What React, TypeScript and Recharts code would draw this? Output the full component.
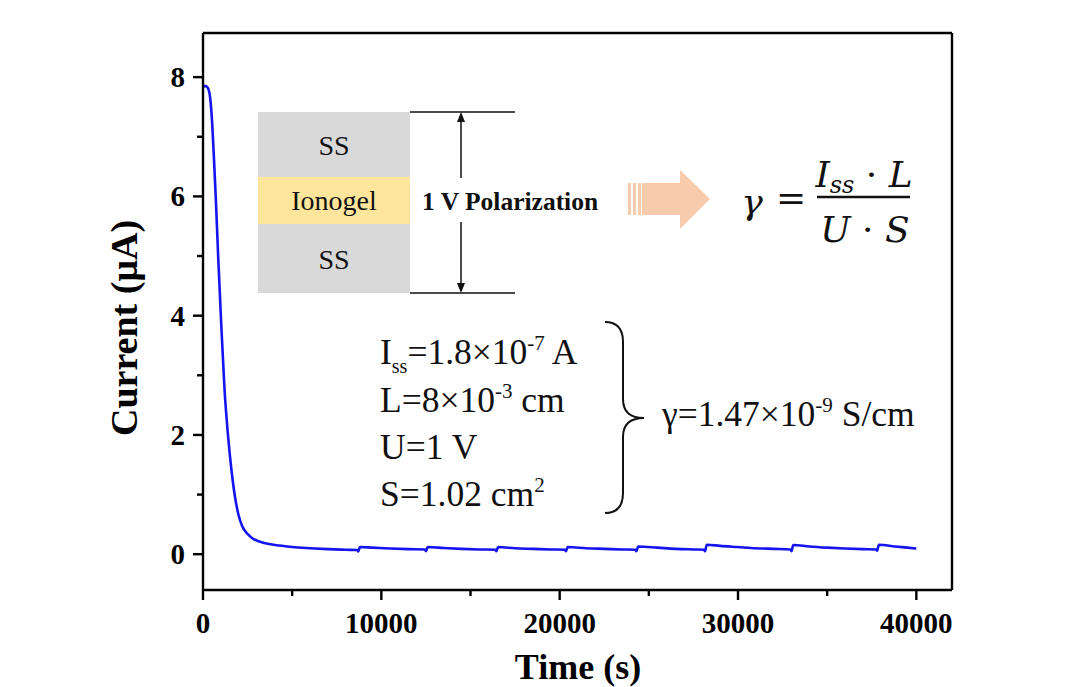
import React from "react";
import { LineChart, Line, XAxis, YAxis } from "recharts";

// Chronoamperometry under a 1 V step: time (s) vs. current (µA)
const timeS = [
  0, 150, 300, 420, 520, 620, 720, 850, 1000, 1200, 1400, 1600, 1800, 2000, 2200,
  2500, 2800, 3200, 3700, 4300, 5000, 6000, 7000, 8000, 8650, 8700, 8800, 9500,
  10500, 11500, 12450, 12500, 12600, 13500, 14500, 15500, 16400, 16450, 16550,
  17500, 18500, 19500, 20300, 20350, 20450, 21500, 22500, 23500, 24250, 24300,
  24400, 25500, 26500, 27500, 28100, 28150, 28250, 29000, 30000, 31000, 32000,
  32950, 33000, 33100, 34000, 35000, 36000, 37000, 37750, 37800, 37900, 38800,
  39500, 40000,
];
const currentUA = [
  7.85, 7.85, 7.8, 7.6, 7.2, 6.6, 5.95, 5.0, 4.0, 2.8, 2.0, 1.4, 0.95, 0.65, 0.47,
  0.34, 0.26, 0.21, 0.17, 0.145, 0.12, 0.1, 0.085, 0.075, 0.07, 0.045, 0.12, 0.11,
  0.095, 0.085, 0.08, 0.05, 0.12, 0.105, 0.09, 0.08, 0.075, 0.05, 0.12,
  0.1, 0.09, 0.08, 0.075, 0.05, 0.12, 0.1, 0.09, 0.08, 0.075, 0.05,
  0.13, 0.11, 0.09, 0.08, 0.075, 0.05, 0.16, 0.14, 0.12, 0.1, 0.09,
  0.08, 0.05, 0.155, 0.13, 0.11, 0.095, 0.085, 0.08, 0.06, 0.16, 0.13,
  0.11, 0.095,
];

const xTicks = [0, 5000, 10000, 15000, 20000, 25000, 30000, 35000, 40000];
const yTicks = [0, 1, 2, 3, 4, 5, 6, 7, 8];
const xDomain = [0, 42000];
const yDomain = [-0.6, 8.74];

const data = timeS.map((t, i) => ({ t, i: currentUA[i] }));

const SERIF = "'Liberation Serif', 'Times New Roman', serif";
const W = 1092;
const H = 687;

const XTick = (props: any) => {
  const { x, y, payload } = props;
  const major = payload.value % 10000 === 0;
  return (
    <g>
      <line x1={x} x2={x} y1={y} y2={y + (major ? 10 : 6)} stroke="#000" strokeWidth={2.4} />
      {major && (
        <text x={x} y={y + 43} textAnchor="middle" fontFamily={SERIF} fontWeight="bold" fontSize={29} fill="#000">
          {payload.value}
        </text>
      )}
    </g>
  );
};

const YTick = (props: any) => {
  const { x, y, payload } = props;
  const major = payload.value % 2 === 0;
  return (
    <g>
      <line x1={x} x2={x - (major ? 10 : 6)} y1={y} y2={y} stroke="#000" strokeWidth={2.4} />
      {major && (
        <text x={x - 18} y={y + 10} textAnchor="end" fontFamily={SERIF} fontWeight="bold" fontSize={29} fill="#000">
          {payload.value}
        </text>
      )}
    </g>
  );
};

const Annotations = () => (
  <svg width={W} height={H} style={{ position: "absolute", left: 0, top: 0, pointerEvents: "none" }}>
    {/* axis titles */}
    <text x={578} y={679} textAnchor="middle" fontFamily={SERIF} fontWeight="bold" fontSize={36} fill="#000">
      Time (s)
    </text>
    <text
      transform="translate(137,328) rotate(-90)"
      textAnchor="middle"
      fontFamily={SERIF}
      fontWeight="bold"
      fontSize={38}
      fill="#000"
    >
      Current (μA)
    </text>

    {/* cell stack */}
    <rect x={258} y={112} width={152} height={65} fill="#d9d9d9" />
    <rect x={258} y={177} width={152} height={47} fill="#fde69b" />
    <rect x={258} y={224} width={152} height={69} fill="#d9d9d9" />
    <text x={334} y={155} textAnchor="middle" fontFamily={SERIF} fontSize={28} fill="#111">SS</text>
    <text x={334} y={210} textAnchor="middle" fontFamily={SERIF} fontSize={28} fill="#111">Ionogel</text>
    <text x={334} y={269} textAnchor="middle" fontFamily={SERIF} fontSize={28} fill="#111">SS</text>

    {/* polarization marker */}
    <line x1={410} x2={515} y1={112} y2={112} stroke="#111" strokeWidth={1.5} />
    <line x1={410} x2={515} y1={293} y2={293} stroke="#111" strokeWidth={1.5} />
    <line x1={461} x2={461} y1={120} y2={178} stroke="#111" strokeWidth={1.5} />
    <line x1={461} x2={461} y1={222} y2={285} stroke="#111" strokeWidth={1.5} />
    <path d="M461,112 L457,122 L465,122 Z" fill="#111" />
    <path d="M461,293 L457,283 L465,283 Z" fill="#111" />
    <text x={422} y={210} fontFamily={SERIF} fontWeight="bold" fontSize={25.5} fill="#111">1 V Polarization</text>

    {/* block arrow */}
    <rect x={628} y={183} width={3} height={32} fill="#f8cbad" />
    <rect x={633} y={183} width={3} height={32} fill="#f8cbad" />
    <rect x={638} y={183} width={3} height={32} fill="#f8cbad" />
    <path d="M642,183 L680,183 L680,170 L710,199 L680,229 L680,215 L642,215 Z" fill="#f8cbad" />

    {/* conductivity formula */}
    <g fontFamily="'DejaVu Serif', serif" fontStyle="italic" fill="#111">
      <text x={752} y={214} textAnchor="middle" fontSize={36}>γ</text>
      <text x={791} y={210} textAnchor="middle" fontSize={36} fontStyle="normal">=</text>
      <text x={864} y={187} textAnchor="middle" fontSize={36}>
        I<tspan fontSize={24} dy={6}>ss</tspan>
        <tspan dy={-6} fontStyle="normal"> · </tspan>L
      </text>
      <text x={865} y={242} textAnchor="middle" fontSize={36}>
        U<tspan fontStyle="normal"> · </tspan>S
      </text>
    </g>
    <line x1={817} x2={910} y1={197} y2={197} stroke="#111" strokeWidth={2.5} />

    {/* parameters */}
    <g fontFamily={SERIF} fontSize={35.5} fill="#111">
      <text x={380} y={364}>
        I<tspan fontSize={20} dy={9}>ss</tspan>
        <tspan dy={-9}>=1.8×10</tspan>
        <tspan fontSize={21} dy={-14}>-7</tspan>
        <tspan dy={14}> A</tspan>
      </text>
      <text x={380} y={412}>
        L=8×10<tspan fontSize={21} dy={-14}>-3</tspan>
        <tspan dy={14}> cm</tspan>
      </text>
      <text x={380} y={459}>U=1 V</text>
      <text x={380} y={506}>
        S=1.02 cm<tspan fontSize={21} dy={-14}>2</tspan>
      </text>
      <text x={662} y={426}>
        γ=1.47×10<tspan fontSize={21} dy={-14}>-9</tspan>
        <tspan dy={14}> S/cm</tspan>
      </text>
    </g>
    <path
      d="M605,322 Q623,322 623,342 L623,399 Q623,418 644,418 Q623,418 623,437 L623,493 Q623,513 605,513"
      fill="none"
      stroke="#111"
      strokeWidth={2}
    />
  </svg>
);

export default function App() {
  return (
    <div style={{ position: "absolute", left: 0, top: 0, width: W, height: H, background: "#fff" }}>
      <LineChart width={W} height={H} data={data} margin={{ top: 32, right: 139, left: 143, bottom: 57 }}>
        <XAxis
          dataKey="t"
          type="number"
          domain={xDomain}
          ticks={xTicks}
          allowDataOverflow
          height={40}
          tickSize={0}
          tickMargin={0}
          tickLine={false}
          tick={<XTick />}
          axisLine={{ stroke: "#000", strokeWidth: 2.4 }}
          interval={0}
        />
        <XAxis
          xAxisId="top"
          orientation="top"
          type="number"
          domain={xDomain}
          height={1}
          tick={false}
          tickLine={false}
          axisLine={{ stroke: "#000", strokeWidth: 2.4 }}
        />
        <YAxis
          type="number"
          domain={yDomain}
          ticks={yTicks}
          allowDataOverflow
          width={60}
          tickSize={0}
          tickMargin={0}
          tickLine={false}
          tick={<YTick />}
          axisLine={{ stroke: "#000", strokeWidth: 2.4 }}
          interval={0}
        />
        <YAxis
          yAxisId="right"
          orientation="right"
          type="number"
          domain={yDomain}
          width={1}
          tick={false}
          tickLine={false}
          axisLine={{ stroke: "#000", strokeWidth: 2.4 }}
        />
        <Line
          dataKey="i"
          type="monotone"
          stroke="#1414f0"
          strokeWidth={2.6}
          dot={false}
          isAnimationActive={false}
        />
      </LineChart>
      <Annotations />
    </div>
  );
}
